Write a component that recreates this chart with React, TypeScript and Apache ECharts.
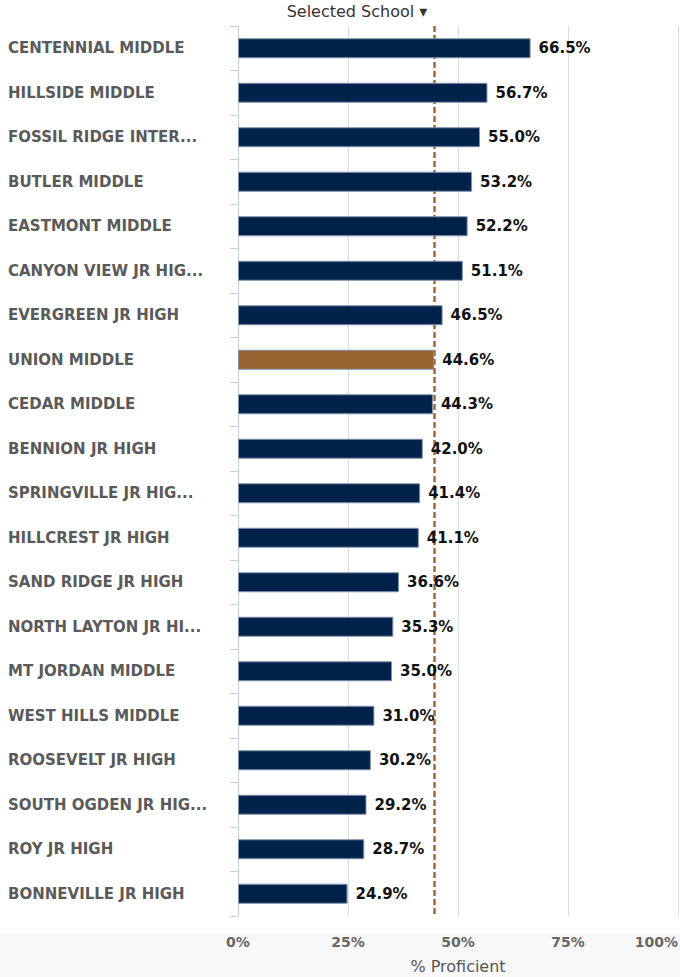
import React, { useEffect, useRef } from "react";
import * as echarts from "echarts";

const schools = [
  "CENTENNIAL MIDDLE",
  "HILLSIDE MIDDLE",
  "FOSSIL RIDGE INTER...",
  "BUTLER MIDDLE",
  "EASTMONT MIDDLE",
  "CANYON VIEW JR HIG...",
  "EVERGREEN JR HIGH",
  "UNION MIDDLE",
  "CEDAR MIDDLE",
  "BENNION JR HIGH",
  "SPRINGVILLE JR HIG...",
  "HILLCREST JR HIGH",
  "SAND RIDGE JR HIGH",
  "NORTH LAYTON JR HI...",
  "MT JORDAN MIDDLE",
  "WEST HILLS MIDDLE",
  "ROOSEVELT JR HIGH",
  "SOUTH OGDEN JR HIG...",
  "ROY JR HIGH",
  "BONNEVILLE JR HIGH",
];
const proficient = [66.5, 56.7, 55.0, 53.2, 52.2, 51.1, 46.5, 44.6, 44.3, 42.0, 41.4, 41.1, 36.6, 35.3, 35.0, 31.0, 30.2, 29.2, 28.7, 24.9];
const selectedSchool = "UNION MIDDLE";
const xTicks = [0, 25, 50, 75, 100];

export default function App() {
  const ref = useRef<HTMLDivElement>(null);
  useEffect(() => {
    const chart = echarts.init(ref.current!, null, { renderer: "svg" });
    const font = "'DejaVu Sans', 'Open Sans', sans-serif";
    const selIdx = schools.indexOf(selectedSchool);
    chart.setOption({
      animation: false,
      textStyle: { fontFamily: font },
      graphic: [
        {
          type: "rect",
          shape: { x: 0, y: 933, width: 680, height: 44 },
          style: { fill: "#f8f8f8" },
          z: -10,
        },
      ],
      title: {
        text: "Selected School ▾",
        left: 352,
        textAlign: "center",
        top: -2,
        textStyle: { fontFamily: font, fontSize: 16, fontWeight: "normal", color: "#333" },
      },
      grid: { left: 238, right: 2, top: 26, bottom: 61, containLabel: false, outerBoundsMode: "none" },
      xAxis: {
        type: "value",
        min: xTicks[0],
        max: xTicks[xTicks.length - 1],
        interval: 25,
        name: "% Proficient",
        nameLocation: "middle",
        nameGap: 42,
        nameTextStyle: { fontFamily: font, fontSize: 16, color: "#555" },
        axisLine: { show: false },
        axisTick: { show: false },
        axisLabel: {
          formatter: (v: number) => v + "%",
          fontFamily: font,
          fontSize: 14,
          fontWeight: "bold",
          color: "#666",
          margin: 19,
          alignMaxLabel: "right",
        },
        splitLine: { show: true, lineStyle: { color: "#d9dee6", width: 1 } },
      },
      yAxis: {
        type: "category",
        data: schools,
        inverse: true,
        axisLine: { show: true, lineStyle: { color: "#c3d0e0", width: 1 } },
        axisTick: { show: true, length: 8, lineStyle: { color: "#c3d0e0" } },
        axisLabel: {
          align: "left",
          margin: 230,
          fontFamily: font,
          fontSize: 15,
          fontWeight: "bold",
          color: "#5a5a5a",
        },
        splitLine: { show: false },
      },
      series: [
        {
          type: "bar",
          data: proficient.map((v, i) => ({
            value: v,
            itemStyle: { color: i === selIdx ? "#966230" : "#02224c" },
          })),
          barWidth: 20,
          itemStyle: { borderColor: "#8194ae", borderWidth: 1 },
          label: {
            show: true,
            position: "right",
            distance: 8,
            formatter: (p: any) => p.value.toFixed(1) + "%",
            fontFamily: font,
            fontSize: 15,
            fontWeight: "bold",
            color: "#111",
          },
          z: 2,
          markLine: {
            silent: true,
            symbol: "none",
            label: { show: false },
            lineStyle: { color: "#9e6a36", type: [6, 3], width: 2.5 },
            data: [{ xAxis: proficient[selIdx] }],
            z: 1,
          },
        },
      ],
    });
    return () => chart.dispose();
  }, []);
  return (
    <div style={{ position: "fixed", left: 0, top: 0, width: 680, height: 977, background: "#fff" }}>
      <div ref={ref} style={{ width: 680, height: 977 }} />
    </div>
  );
}
